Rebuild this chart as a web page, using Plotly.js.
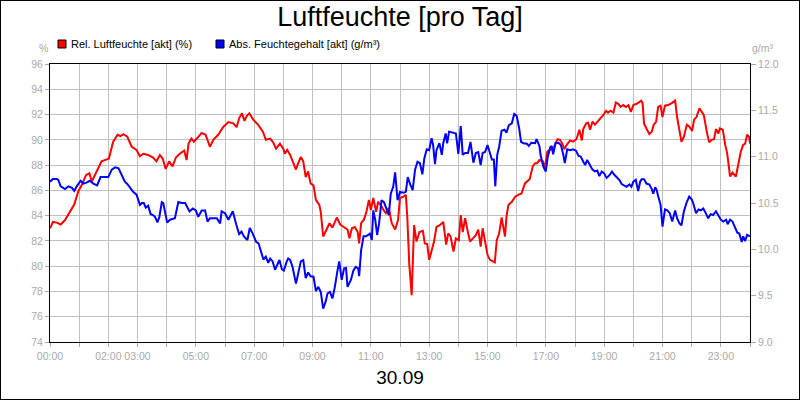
<!DOCTYPE html>
<html>
<head>
<meta charset="utf-8">
<script src="https://cdn.plot.ly/plotly-3.0.1.min.js"></script>
<style>
  html, body { margin: 0; padding: 0; background: #fff; }
  #wrap { position: relative; width: 800px; height: 400px; }
  #chart { width: 800px; height: 400px; }
  #frame { position: absolute; left: 0; top: 0; width: 800px; height: 400px; box-sizing: border-box; border: 1px solid #000; pointer-events: none; }
</style>
</head>
<body>
<div id="wrap"><div id="chart"></div><div id="frame"></div></div>
<script>
// ---- data (time in minutes after 00:00 on 30.09) ----
const titleText = "Luftfeuchte [pro Tag]";
const dateLabel = "30.09";
const relName = "Rel. Luftfeuchte [akt] (%)";
const absName = "Abs. Feuchtegehalt [akt] (g/m³)";
const leftUnit = "%";
const rightUnit = "g/m³";

const tickMinutes = [0,60,120,180,240,300,360,420,480,540,600,660,720,780,840,900,960,1020,1080,1140,1200,1260,1320,1380,1440];
const tickLabels = ["00:00","","02:00","03:00","","05:00","","07:00","","09:00","","11:00","","13:00","","15:00","","17:00","","19:00","","21:00","","23:00",""];

const relMin = [0,6,14,22,31,41,50,58,65,74,81,86,91,99,106,117,121,130,139,145,151,159,168,178,185,192,202,212,219,226,232,238,245,252,259,267,276,281,285,291,296,302,312,320,329,336,346,356,367,377,384,389,395,400,405,410,418,428,438,444,453,459,465,473,480,483,488,494,500,506,511,516,521,526,531,536,542,547,554,557,562,568,575,581,590,597,605,612,616,621,627,633,636,640,646,651,656,660,665,671,675,680,686,691,697,703,710,716,720,727,732,735,739,744,749,754,760,767,771,776,780,785,790,795,802,809,815,819,824,830,835,841,845,849,854,858,864,870,876,881,886,890,895,900,905,911,915,919,924,929,932,936,939,943,950,957,963,970,977,982,987,993,998,1002,1007,1014,1018,1023,1029,1034,1039,1044,1049,1054,1058,1063,1070,1076,1083,1089,1094,1097,1103,1107,1111,1116,1121,1127,1131,1138,1144,1148,1153,1159,1164,1169,1174,1179,1185,1190,1195,1200,1207,1212,1216,1219,1222,1227,1233,1238,1242,1247,1251,1256,1260,1265,1272,1279,1286,1290,1295,1299,1304,1310,1315,1321,1325,1330,1336,1341,1345,1351,1356,1361,1366,1370,1375,1378,1384,1389,1393,1399,1404,1411,1416,1421,1426,1430,1434,1438,1440];
const relVal = [83.0,83.5,83.45,83.3,83.65,84.3,84.9,85.9,86.4,87.2,87.35,86.7,87.1,87.75,88.3,88.45,88.5,89.85,90.4,90.3,90.45,90.25,89.45,89.2,88.7,88.9,88.8,88.6,88.3,88.8,88.5,87.7,88.3,87.9,88.6,88.9,89.15,88.4,89.7,90.1,89.85,90.1,90.55,90.4,89.45,90.0,90.4,91.0,91.4,91.3,91.0,91.7,92.1,91.5,91.9,92.1,91.6,91.2,90.65,90.0,90.1,89.8,89.3,89.7,89.3,88.9,89.2,88.8,88.15,87.65,88.2,88.65,88.3,87.05,87.5,86.55,86.4,85.25,84.85,84.3,82.35,82.9,83.4,83.05,83.85,83.3,83.1,82.9,82.2,83.0,83.1,82.7,81.8,83.4,83.7,84.3,85.25,84.45,85.4,84.3,85.1,84.85,84.45,84.2,84.6,83.4,82.9,83.65,85.4,85.5,85.65,83.9,80.2,77.7,83.25,81.95,82.7,82.8,81.8,81.75,80.5,81.3,81.95,83.1,83.25,83.5,81.7,82.6,82.35,81.15,82.2,82.05,84.05,82.7,83.8,83.0,81.95,82.2,82.45,82.9,81.55,83.0,82.05,80.9,80.5,80.35,80.3,82.05,82.6,83.85,83.1,82.35,83.9,84.85,85.1,85.5,85.65,85.75,86.55,86.7,86.9,87.9,88.15,88.15,88.4,88.3,87.75,89.05,89.25,89.2,89.7,90.05,90.0,89.7,89.25,89.6,89.95,89.85,90.05,90.8,89.95,90.85,91.3,91.35,90.8,91.45,91.2,91.45,91.7,91.95,92.3,92.15,92.3,92.15,92.95,92.85,92.6,92.75,92.6,92.75,92.2,92.75,92.85,93.0,93.1,92.9,91.3,90.9,90.45,90.65,91.2,91.45,92.6,92.7,91.8,92.7,92.75,92.9,93.1,91.8,90.65,89.85,90.25,91.2,91.05,90.7,91.6,91.8,92.5,92.2,91.95,90.65,89.8,90.0,90.05,90.85,90.5,90.9,90.8,89.6,88.95,87.1,87.4,87.1,88.0,89.05,89.6,89.7,90.4,90.25,89.7];

const absMin = [0,6,14,17,22,31,38,45,50,55,63,69,75,82,89,97,104,113,120,127,134,141,147,154,159,165,171,178,185,189,193,197,202,207,212,216,221,225,230,233,237,241,247,257,264,271,278,287,294,300,305,312,319,324,329,336,343,350,353,360,367,372,376,383,389,394,399,406,411,417,424,429,433,439,444,449,453,458,463,468,472,477,481,487,490,494,499,506,511,516,521,526,531,536,542,547,552,557,562,567,571,576,581,586,591,595,600,605,609,612,619,624,629,634,636,640,645,650,654,658,662,665,669,673,677,682,687,693,697,701,706,710,715,720,727,732,736,741,746,751,756,761,766,770,775,780,785,788,792,795,801,806,809,814,817,821,828,835,840,845,849,854,860,865,871,876,881,886,890,895,900,905,909,913,916,920,924,929,935,939,944,950,955,960,965,969,974,981,985,990,998,1001,1007,1009,1015,1020,1024,1029,1032,1035,1040,1046,1051,1056,1059,1064,1070,1076,1082,1087,1092,1097,1101,1105,1111,1116,1121,1126,1130,1135,1140,1145,1151,1156,1160,1166,1171,1176,1181,1186,1192,1196,1200,1205,1210,1214,1217,1222,1227,1233,1238,1241,1245,1248,1251,1256,1260,1265,1270,1275,1280,1286,1290,1295,1299,1304,1310,1315,1320,1323,1329,1334,1339,1344,1350,1354,1359,1364,1370,1375,1380,1385,1391,1394,1399,1404,1409,1414,1418,1423,1426,1430,1434,1440];
const absVal = [10.73,10.76,10.76,10.75,10.68,10.65,10.68,10.665,10.63,10.68,10.74,10.71,10.72,10.74,10.71,10.69,10.78,10.78,10.78,10.86,10.885,10.875,10.80,10.73,10.705,10.66,10.62,10.59,10.48,10.50,10.50,10.45,10.47,10.38,10.37,10.35,10.29,10.35,10.51,10.50,10.37,10.29,10.32,10.335,10.51,10.50,10.50,10.41,10.44,10.42,10.35,10.42,10.42,10.30,10.335,10.335,10.335,10.28,10.41,10.39,10.32,10.37,10.41,10.27,10.165,10.19,10.14,10.10,10.23,10.17,10.08,10.065,9.985,9.89,9.92,9.855,9.90,9.87,9.78,9.84,9.885,9.785,9.77,9.87,9.90,9.885,9.81,9.63,9.76,9.87,9.885,9.69,9.75,9.71,9.705,9.55,9.595,9.54,9.36,9.435,9.525,9.54,9.47,9.595,9.76,9.87,9.67,9.795,9.80,9.595,9.67,9.77,9.81,9.795,9.71,9.99,10.14,10.14,10.155,10.17,10.10,10.42,10.32,10.155,10.28,10.53,10.51,10.42,10.37,10.60,10.675,10.83,10.53,10.62,10.61,10.62,10.78,10.70,10.64,10.86,10.945,10.93,10.81,10.98,11.08,11.07,11.20,11.13,10.92,11.07,11.145,11.02,11.145,11.25,11.145,11.27,11.26,11.25,11.03,11.33,11.02,11.04,11.04,11.16,10.935,11.04,11.05,10.91,11.04,11.05,11.125,11.05,10.97,10.97,10.68,11.02,11.11,11.28,11.29,11.26,11.34,11.36,11.46,11.44,11.31,11.16,11.145,11.14,11.115,11.15,11.145,11.19,11.11,11.02,10.89,10.84,11.0,11.10,11.115,11.025,11.145,11.15,11.125,11.02,10.93,11.08,11.07,11.08,11.065,11.01,11.0,10.945,10.91,10.965,10.91,10.86,10.84,10.85,10.79,10.84,10.82,10.77,10.80,10.84,10.81,10.78,10.75,10.705,10.69,10.675,10.70,10.675,10.73,10.75,10.63,10.73,10.755,10.755,10.71,10.70,10.65,10.60,10.67,10.64,10.575,10.48,10.245,10.43,10.42,10.39,10.30,10.42,10.335,10.28,10.26,10.41,10.51,10.57,10.54,10.50,10.39,10.43,10.42,10.44,10.38,10.335,10.38,10.37,10.41,10.36,10.32,10.30,10.32,10.27,10.32,10.30,10.23,10.18,10.17,10.08,10.14,10.09,10.155,10.14];

const leftTicks = [74,76,78,80,82,84,86,88,90,92,94,96];
const rightTicks = [9.0,9.5,10.0,10.5,11.0,11.5,12.0];

// ---- chart ----
const FONT = "Liberation Sans, Arial, sans-serif";
const GRID = "#c0c0c0";
const TICKTXT = "#a9a9a9";

const traces = [
  { x: relMin, y: relVal, name: relName, type: "scatter", mode: "lines",
    line: { color: "#ff0000", width: 2 }, yaxis: "y", showlegend: false, hoverinfo: "skip" },
  { x: absMin, y: absVal, name: absName, type: "scatter", mode: "lines",
    line: { color: "#0000ff", width: 2 }, yaxis: "y2", showlegend: false, hoverinfo: "skip" }
];

const L = 50, R = 50, T = 64, B = 58, W = 800, H = 400;
const pw = W - L - R, ph = H - T - B;
const px = v => (v - L) / pw;          // page x -> paper x (legend decoration)
const py = v => (H - B - v) / ph;      // page y -> paper y

const layout = {
  width: W, height: H,
  margin: { l: L, r: R, t: T, b: B, pad: 0 },
  paper_bgcolor: "#ffffff", plot_bgcolor: "#ffffff",
  font: { family: FONT, color: "#000" },
  showlegend: false,
  title: { text: titleText, font: { family: FONT, size: 27, color: "#000" },
           xref: "container", x: 0.5, xanchor: "center",
           yref: "container", y: 1 - 17 / H, yanchor: "middle" },
  xaxis: {
    range: [0, 1440], tickmode: "array", tickvals: tickMinutes, ticktext: tickLabels,
    showgrid: true, gridcolor: GRID, gridwidth: 1, zeroline: false,
    ticks: "outside", ticklen: 4, tickcolor: TICKTXT, tickwidth: 1,
    tickfont: { family: FONT, size: 10.5, color: TICKTXT },
    showline: true, linecolor: "#000", linewidth: 1, mirror: true,
    title: { text: dateLabel, font: { family: FONT, size: 19, color: "#000" }, standoff: 10 },
    fixedrange: true
  },
  yaxis: {
    range: [74, 96], tickmode: "array", tickvals: leftTicks,
    showgrid: true, gridcolor: GRID, gridwidth: 1, zeroline: false,
    ticks: "outside", ticklen: 4, tickcolor: TICKTXT, tickwidth: 1,
    tickfont: { family: FONT, size: 10.5, color: TICKTXT },
    showline: true, linecolor: "#000", linewidth: 1, mirror: true,
    fixedrange: true
  },
  yaxis2: {
    range: [9, 12], tickmode: "array", tickvals: rightTicks, tickformat: ".1f",
    overlaying: "y", side: "right", showgrid: false, zeroline: false,
    ticks: "outside", ticklen: 5, tickcolor: TICKTXT, tickwidth: 1,
    tickfont: { family: FONT, size: 10.5, color: TICKTXT },
    showline: true, linecolor: "#000", linewidth: 1,
    fixedrange: true
  },
  annotations: [
    { text: relName, xref: "paper", yref: "paper", x: px(69), y: py(44), xanchor: "left", yanchor: "middle",
      showarrow: false, font: { family: FONT, size: 11, color: "#000" } },
    { text: absName, xref: "paper", yref: "paper", x: px(227), y: py(44), xanchor: "left", yanchor: "middle",
      showarrow: false, font: { family: FONT, size: 11, color: "#000" } },
    { text: leftUnit, xref: "paper", yref: "paper", x: px(43), y: py(48), xanchor: "center", yanchor: "middle",
      showarrow: false, font: { family: FONT, size: 10.5, color: TICKTXT } },
    { text: rightUnit, xref: "paper", yref: "paper", x: px(763), y: py(48), xanchor: "center", yanchor: "middle",
      showarrow: false, font: { family: FONT, size: 10.5, color: TICKTXT } }
  ],
  shapes: [
    { type: "rect", xref: "paper", yref: "paper", x0: px(58), x1: px(66), y0: py(48), y1: py(40),
      fillcolor: "#ff0000", line: { color: "#000", width: 1 } },
    { type: "rect", xref: "paper", yref: "paper", x0: px(216), x1: px(224), y0: py(48), y1: py(40),
      fillcolor: "#0000ff", line: { color: "#000", width: 1 } }
  ]
};

Plotly.newPlot("chart", traces, layout, { displayModeBar: false, staticPlot: true });
</script>
</body>
</html>
